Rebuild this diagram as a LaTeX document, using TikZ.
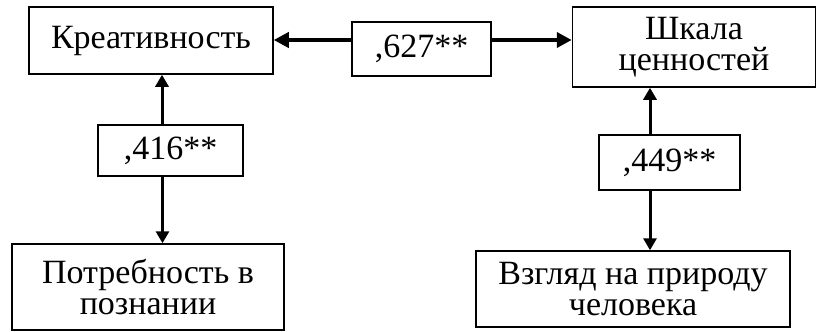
\documentclass[tikz,border=0pt]{standalone}
\usepackage{fontspec}
\setmainfont{Liberation Serif}
\usetikzlibrary{arrows.meta}
\tikzset{
  box/.style={draw, line width=1.5pt, inner sep=0pt, align=center,
    font=\fontsize{34}{31}\selectfont},
  harr/.style={line width=4pt, -{Triangle[length=15pt,width=15pt]}},
  varr/.style={line width=3pt, -{Triangle[length=12pt,width=13pt]}},
}
\begin{document}
\begin{tikzpicture}[x=1pt,y=-1pt]
\useasboundingbox (0,0) rectangle (817,332);
\node[box, minimum width=244pt, minimum height=67pt] (kr) at (151,40.5) {Креативность};
\node[box, minimum width=243pt, minimum height=80pt] (sh) at (694,47) {Шкала\\ценностей};
\node[box, minimum width=139pt, minimum height=54pt] (c627) at (421.5,49) {,627**};
\node[box, minimum width=145pt, minimum height=51pt] (c416) at (170.5,150.5) {,416**};
\node[box, minimum width=141pt, minimum height=55pt] (c449) at (669.5,162.5) {,449**};
\node[box, minimum width=272pt, minimum height=86pt] (pt) at (148,287) {Потребность в\\познании};
\node[box, minimum width=314pt, minimum height=76pt] (vz) at (633,289) {Взгляд на природу\\человека};
\draw[harr] ([yshift=9pt]c627.west) -- ([yshift=9pt]c627.west -| kr.east);
\draw[harr] ([yshift=9pt]c627.east) -- ([yshift=9pt]c627.east -| sh.west);
\draw[varr] ([xshift=-8.5pt]c416.north) -- ([xshift=-8.5pt]c416.north |- kr.south);
\draw[varr] ([xshift=-8pt]c416.south) -- ([xshift=-8pt]c416.south |- pt.north);
\draw[varr] ([xshift=-19.5pt]c449.north) -- ([xshift=-19.5pt]c449.north |- sh.south);
\draw[varr] ([xshift=-19.5pt]c449.south) -- ([xshift=-19.5pt]c449.south |- vz.north);
\end{tikzpicture}
\end{document}
